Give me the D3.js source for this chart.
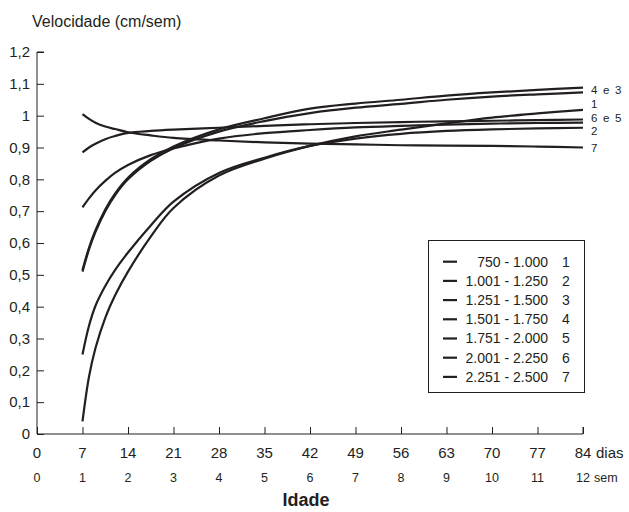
<!DOCTYPE html>
<html><head><meta charset="utf-8">
<script src="https://cdn.jsdelivr.net/npm/d3@7/dist/d3.min.js"></script>
<style>
html,body{margin:0;padding:0;background:#fff;}
svg{display:block;font-family:"Liberation Sans",Arial,Helvetica,sans-serif;}
</style></head>
<body><svg id="chart" width="629" height="512"></svg>
<script>
// ---- data ----
const days = [7, 8, 9, 10.5, 12, 14, 17.5, 21, 28, 35, 42, 49, 56, 63, 70, 77, 84];
const s1 = [0.04, 0.18, 0.27, 0.365, 0.435, 0.51, 0.62, 0.71, 0.812, 0.865, 0.905, 0.935, 0.956, 0.976, 0.994, 1.007, 1.018];
const s2 = [0.25, 0.34, 0.403, 0.465, 0.515, 0.57, 0.655, 0.73, 0.82, 0.868, 0.905, 0.928, 0.943, 0.952, 0.957, 0.96, 0.962];
const s3 = [0.51, 0.58, 0.635, 0.70, 0.75, 0.80, 0.858, 0.898, 0.95, 0.983, 1.008, 1.025, 1.037, 1.05, 1.06, 1.067, 1.073];
const s4 = [0.515, 0.585, 0.64, 0.705, 0.755, 0.805, 0.863, 0.903, 0.957, 0.992, 1.022, 1.038, 1.05, 1.063, 1.073, 1.081, 1.088];
const s5 = [0.712, 0.74, 0.765, 0.795, 0.82, 0.845, 0.876, 0.897, 0.928, 0.945, 0.955, 0.963, 0.968, 0.972, 0.975, 0.977, 0.978];
const s6 = [0.885, 0.9, 0.912, 0.926, 0.936, 0.946, 0.952, 0.956, 0.962, 0.968, 0.973, 0.977, 0.98, 0.982, 0.984, 0.986, 0.988];
const s7 = [1.005, 0.99, 0.978, 0.966, 0.958, 0.948, 0.938, 0.93, 0.922, 0.916, 0.912, 0.91, 0.907, 0.906, 0.905, 0.903, 0.9];
const seriesValues = [s1, s2, s3, s4, s5, s6, s7];
const legendRanges = ["750 - 1.000", "1.001 - 1.250", "1.251 - 1.500", "1.501 - 1.750", "1.751 - 2.000", "2.001 - 2.250", "2.251 - 2.500"];
const legendNumbers = ["1", "2", "3", "4", "5", "6", "7"];
const endLabels = ["4 e 3", "1", "6 e 5", "2", "7"];
const endLabelValues = [1.08, 1.036, 0.994, 0.951, 0.9];
const dayTicks = [0, 7, 14, 21, 28, 35, 42, 49, 56, 63, 70, 77, 84];
const weekLabels = ["0", "1", "2", "3", "4", "5", "6", "7", "8", "9", "10", "11", "12"];
const yTicks = [0, 0.1, 0.2, 0.3, 0.4, 0.5, 0.6, 0.7, 0.8, 0.9, 1, 1.1, 1.2];

// ---- chart ----
const ink = "#231f20";
const svg = d3.select("#chart");
const x = d3.scaleLinear().domain([0, 84]).range([37, 583]);
const y = d3.scaleLinear().domain([0, 1.2]).range([434, 52]);
const fmt = v => String(+v.toFixed(1)).replace(".", ",");

// title
svg.append("text").attr("x", 32).attr("y", 27).attr("font-size", 16).attr("fill", ink)
  .text("Velocidade (cm/sem)");

// y axis
const yAxis = svg.append("g").attr("transform", `translate(${x(0)},0)`)
  .call(d3.axisRight(y).tickValues(yTicks).tickSize(7).tickFormat(""));
yAxis.select(".domain").attr("stroke", ink).attr("d", `M7,${y(1.2)}H0V${y(0)}`);
yAxis.selectAll(".tick line").attr("stroke", ink);
svg.append("g").selectAll("text").data(yTicks).join("text")
  .attr("x", 30).attr("y", d => y(d)).attr("dy", "0.35em").attr("text-anchor", "end")
  .attr("font-size", 15).attr("fill", ink).text(fmt);

// x axis
const xAxis = svg.append("g").attr("transform", `translate(0,${y(0)})`)
  .call(d3.axisTop(x).tickValues(dayTicks).tickSize(7).tickFormat(""));
xAxis.select(".domain").attr("stroke", ink).attr("d", `M${x(0)},0H${x(84)}V-7`);
xAxis.selectAll(".tick line").attr("stroke", ink);
svg.append("g").selectAll("text").data(dayTicks).join("text")
  .attr("x", d => x(d)).attr("y", 458).attr("text-anchor", "middle")
  .attr("font-size", 15).attr("fill", ink).text(d => d);
svg.append("text").attr("x", x(84) + 13).attr("y", 458).attr("font-size", 15).attr("fill", ink).text("dias");
svg.append("g").selectAll("text").data(weekLabels).join("text")
  .attr("x", (d, i) => x(dayTicks[i])).attr("y", 482).attr("text-anchor", "middle")
  .attr("font-size", 12.5).attr("fill", ink).text(d => d);
svg.append("text").attr("x", x(84) + 11).attr("y", 482).attr("font-size", 12.5).attr("fill", ink).text("sem");
svg.append("text").attr("x", 306).attr("y", 506).attr("text-anchor", "middle")
  .attr("font-size", 18).attr("font-weight", "bold").attr("fill", ink).text("Idade");

// lines
const line = d3.line().x((d, i) => x(days[i])).y(d => y(d)).curve(d3.curveCatmullRom.alpha(0.5));
svg.append("g").selectAll("path").data(seriesValues).join("path")
  .attr("d", line).attr("fill", "none").attr("stroke", ink).attr("stroke-width", 2.2)
  .attr("stroke-linecap", "butt");

// end labels
svg.append("g").selectAll("text").data(endLabels).join("text")
  .attr("x", 591).attr("y", (d, i) => y(endLabelValues[i])).attr("dy", "0.35em")
  .attr("font-size", 11.5).attr("letter-spacing", 1.2).attr("fill", ink).text(d => d);

// legend
const lg = svg.append("g");
lg.append("rect").attr("x", 428.5).attr("y", 240.5).attr("width", 156).attr("height", 152)
  .attr("fill", "#fff").attr("stroke", ink).attr("stroke-width", 1);
const rows = lg.selectAll("g.row").data(legendRanges).join("g").attr("class", "row")
  .attr("transform", (d, i) => `translate(0,${261.7 + i * 19.2})`);
rows.append("line").attr("x1", 443).attr("x2", 457).attr("y1", 0).attr("y2", 0)
  .attr("stroke", ink).attr("stroke-width", 2.2);
rows.append("text").attr("x", 548).attr("dy", "0.35em").attr("text-anchor", "end")
  .attr("font-size", 14).attr("fill", ink).text(d => d);
rows.append("text").attr("x", 566).attr("dy", "0.35em").attr("text-anchor", "middle")
  .attr("font-size", 14).attr("fill", ink).text((d, i) => legendNumbers[i]);
</script></body></html>
